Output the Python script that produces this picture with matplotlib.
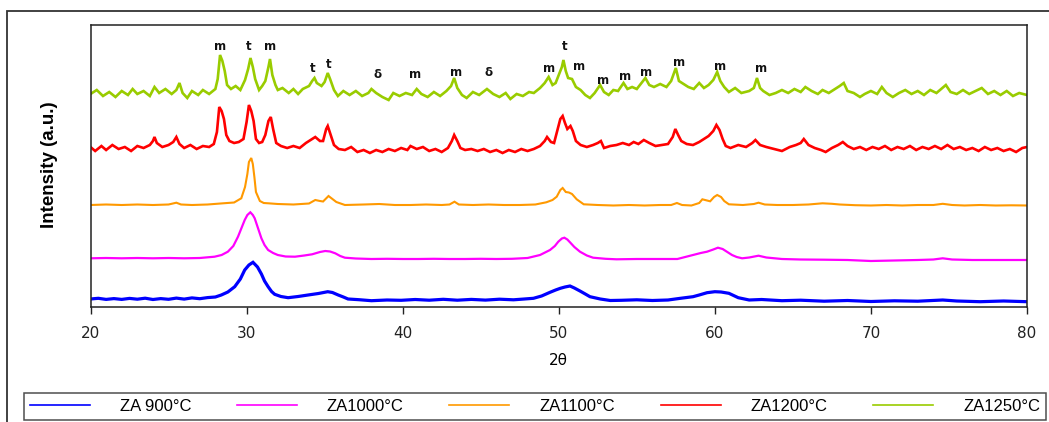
import matplotlib
matplotlib.use('agg')
import matplotlib.pyplot as plt
from matplotlib.patches import Rectangle

# XRD patterns, intensity (arbitrary units, stacked offsets)
tt_900 = [20, 20.5, 21, 21.5, 22, 22.5, 23, 23.5, 24, 24.5, 25, 25.5, 26, 26.5, 27, 27.5, 28, 28.38, 28.8,
          29.24, 29.6, 29.88, 30.15, 30.41, 30.7, 30.95, 31.15, 31.38, 31.6, 31.8, 32.2, 32.66, 33.3, 33.94,
          34.6, 35.2, 35.5, 35.87, 36.2, 36.5, 37.2, 38, 39, 39.9, 40.8, 41.7, 42.6, 43.5, 44.4, 45.3, 46.2,
          47.1, 47.8, 48.38, 48.9, 49.44, 49.8, 50.1, 50.4, 50.72, 51.0, 51.36, 51.7, 52.0, 52.66, 53.3, 54,
          55, 56, 57, 57.8, 58.2, 58.6, 59.0, 59.5, 60.0, 60.4, 60.9, 61.2, 61.5, 62.2, 63, 64.3, 65.5, 67,
          68.5, 70, 71.5, 73, 74.6, 75.5, 77, 78.5, 80]
i_900 = [8, 8.7, 7.6, 8.4, 7.6, 8.6, 7.8, 8.8, 7.5, 8.4, 7.7, 8.9, 7.9, 9.1, 8.3, 9.4, 10, 12, 15,
         20.3, 28, 37, 42, 44.7, 40, 33, 26, 20.3, 15.5, 12.7, 10.5, 9.3, 10.5, 12,
         13.5, 15.3, 14.5, 12, 10, 8, 7.3, 6.3, 7, 6.7, 7.5, 6.8, 7.7, 6.8, 7.6, 6.9, 7.8,
         7.2, 8, 8.7, 11, 14.7, 17, 18.7, 20, 21, 19, 16, 13, 10.3, 8, 6.5, 6.7,
         7.2, 6.5, 7, 8.7, 9.5, 10.3, 12, 14.3, 15.3, 15, 13.7, 11.5, 9.3, 7, 7.5, 6.3, 6.8, 5.8,
         6.5, 5.5, 6.2, 5.8, 7, 6, 5.3, 6, 5.3]

tt_1000 = [20, 21, 22, 23, 24, 25, 26, 27, 27.95, 28.4, 28.8, 29.15, 29.45, 29.7, 29.88, 30.05, 30.24,
           30.4, 30.52, 30.75, 30.95, 31.15, 31.38, 31.7, 32.0, 32.5, 33.1, 33.7, 34.2, 34.7, 35.04, 35.35,
           35.68, 36.0, 36.3, 37, 38, 39, 40, 41, 42, 43, 44, 45, 46, 47, 48, 48.8, 49.44, 49.75, 49.97,
           50.2, 50.36, 50.55, 50.72, 51.0, 51.36, 51.8, 52.2, 53, 53.7, 55, 56, 57, 57.6, 58.1, 58.6, 59.1,
           59.5, 59.9, 60.2, 60.5, 60.8, 61.1, 61.4, 61.75, 62.2, 62.8, 63.3, 64.3, 65.5, 67, 68.5, 70,
           71.5, 73, 74, 74.6, 75.2, 76.5, 78, 80]
i_1000 = [48.7, 49, 48.7, 49, 48.7, 49, 48.7, 49, 50.3, 52, 55.3, 61, 70.3, 80, 87, 92, 94.7,
          92, 88.7, 78, 68.7, 62, 57, 54, 52, 50.5, 50.3, 51.5, 52.7, 55, 56, 55.5,
          53.7, 51, 49.3, 48.5, 48, 48.2, 48, 48, 48.2, 48, 48, 48.2, 48, 48.2, 49, 52, 57, 61, 65.3,
          68.5, 69.3, 67.5, 64.7, 60, 55.3, 51.5, 49.3, 48.2, 47.7, 48, 48, 48, 48, 50, 52, 54,
          55.3, 57.5, 59.3, 58, 55, 52, 50, 48.7, 49.5, 51.3, 49.5, 48, 47.5, 47.3, 47, 46,
          46.5, 47, 47.5, 48.7, 47.5, 47, 47, 47]

tt_1100 = [20, 21, 22, 23, 24, 25, 25.5, 25.8, 26.5, 27.5, 28.5, 29.2, 29.66, 29.9, 30.05, 30.15, 30.3,
           30.4, 30.5, 30.6, 30.85, 31.1, 31.4, 32, 33, 34, 34.4, 34.7, 34.9, 35.25, 35.5, 35.75, 36.3,
           37.5, 38.5, 39.5, 40.5, 41.5, 42.5, 43, 43.32, 43.6, 44.5, 45.5, 46.5, 47.5, 48.5, 49.2, 49.6,
           49.87, 50.1, 50.25, 50.45, 50.65, 50.85, 51.15, 51.6, 52.5, 53.5, 54.5, 55.5, 56.5, 57.2, 57.57,
           57.9, 58.5, 59.0, 59.2, 59.5, 59.7, 59.95, 60.15, 60.4, 60.6, 60.9, 61.8, 62.5, 62.8, 63.2, 64,
           65, 66, 66.9, 67.5, 68, 69, 70, 71, 72, 73, 74, 74.6, 75.2, 76, 77, 78, 79, 80]
i_1100 = [102, 102.5, 102, 102.5, 102, 102.5, 104.3, 102.5, 102, 102.5, 103.7, 104.5, 108.7, 120, 133, 145, 149,
          143, 130, 115, 106, 104, 103.7, 103, 102.5, 103.5, 107, 106, 105.5, 111, 108, 105, 102,
          102.5, 103, 102, 102, 102.5, 102, 102.5, 105.3, 102.5, 102, 102.5, 102, 102, 102.5, 104.7, 107,
          110.3, 117, 119, 115, 114.5, 113, 107.7, 102.7, 102, 101.5, 102, 101.5, 102, 102, 104,
          102, 101.5, 104, 107.7, 106.5, 105.7, 110, 112, 110, 106, 102.7, 102, 103, 104.3, 102.5, 102,
          102, 102.5, 103.7, 103.2, 102.5, 101.8, 101.5, 102, 101.5, 102, 102, 103.2, 102, 101.5, 102, 101.5, 101.7, 101.5]

tt_1200 = [20.0, 20.3, 20.7, 21.0, 21.4, 21.8, 22.2, 22.6, 23.0, 23.4, 23.8, 24.0, 24.1, 24.25, 24.6, 25.0,
           25.3, 25.5, 25.7, 26.0, 26.4, 26.8, 27.2, 27.6, 27.9, 28.1, 28.25, 28.4, 28.55, 28.7, 28.9, 29.2,
           29.5, 29.8, 30.0, 30.15, 30.3, 30.45, 30.6, 30.8, 31.0, 31.2, 31.4, 31.55, 31.7, 31.9, 32.2, 32.6,
           33.0, 33.4, 33.8, 34.1, 34.4, 34.7, 34.9, 35.1, 35.2, 35.35, 35.6, 35.9, 36.3, 36.7, 37.1, 37.5,
           37.9, 38.3, 38.7, 39.1, 39.5, 39.9, 40.3, 40.5, 40.9, 41.3, 41.7, 42.1, 42.5, 42.9, 43.15, 43.3,
           43.5, 43.7, 44.0, 44.4, 44.8, 45.2, 45.6, 46.0, 46.4, 46.8, 47.2, 47.6, 48.0, 48.4, 48.8, 49.1,
           49.25, 49.5, 49.7, 49.9, 50.1, 50.25, 50.4, 50.55, 50.75, 50.9, 51.1, 51.4, 51.8, 52.2, 52.5,
           52.7, 52.9, 53.3, 53.7, 54.1, 54.5, 54.8, 55.1, 55.45, 55.8, 56.2, 56.6, 57.0, 57.3, 57.47, 57.65,
           57.85, 58.2, 58.6, 59.0, 59.3, 59.6, 59.9, 60.1, 60.3, 60.5, 60.7, 61.0, 61.5, 62.0, 62.4, 62.6,
           62.9, 63.3, 63.8, 64.3, 64.8, 65.2, 65.5, 65.7, 66.0, 66.4, 66.8, 67.1, 67.5, 67.9, 68.2, 68.5,
           68.9, 69.3, 69.7, 70.1, 70.5, 70.9, 71.3, 71.7, 72.1, 72.5, 72.9, 73.3, 73.7, 74.1, 74.5, 74.9,
           75.3, 75.7, 76.1, 76.5, 76.9, 77.3, 77.7, 78.1, 78.5, 78.9, 79.3, 79.7, 80.0]
i_1200 = [160, 156, 161, 157, 162, 158, 160, 156, 161, 159, 162, 166, 170, 164, 160, 162,
          165, 170, 163, 159, 162, 158, 161, 160, 163, 175, 200, 196, 188, 172, 166, 164,
          165, 168, 185, 202, 196, 186, 168, 164, 165, 172, 186, 190, 178, 164, 161, 159,
          161, 159, 164, 167, 170, 166, 166, 178, 181, 174, 162, 158, 157, 160, 155, 157,
          154, 157, 155, 158, 156, 159, 157, 161, 158, 160, 156, 158, 155, 159, 166, 172,
          166, 159, 157, 158, 156, 158, 155, 157, 154, 157, 155, 158, 156, 158, 161, 166,
          170, 165, 164, 176, 188, 191, 184, 178, 181, 176, 166, 162, 160, 162, 164,
          166, 159, 161, 162, 164, 162, 165, 163, 167, 164, 161, 162, 163, 170, 178, 172,
          166, 163, 162, 165, 168, 171, 176, 182, 177, 168, 161, 159, 162, 160, 164, 167,
          162, 160, 158, 156, 160, 162, 164, 168, 162, 159, 157, 155, 159, 162, 165, 161,
          158, 160, 157, 160, 158, 161, 157, 160, 158, 161, 157, 160, 158, 161, 158, 162,
          158, 160, 157, 159, 156, 160, 157, 159, 156, 158, 155, 159, 160]

tt_1250 = [20.0, 20.4, 20.8, 21.2, 21.6, 22.0, 22.4, 22.7, 23.0, 23.4, 23.8, 24.1, 24.4, 24.8, 25.2, 25.5,
           25.7, 25.9, 26.2, 26.5, 26.9, 27.2, 27.6, 28.0, 28.15, 28.3, 28.45, 28.6, 28.75, 29.0, 29.3, 29.6,
           29.9, 30.1, 30.25, 30.4, 30.55, 30.8, 31.0, 31.2, 31.4, 31.5, 31.65, 31.85, 32.0, 32.3, 32.7, 33.0,
           33.3, 33.6, 34.0, 34.2, 34.35, 34.5, 34.8, 35.0, 35.2, 35.35, 35.6, 35.85, 36.2, 36.6, 37.0, 37.4,
           37.8, 38.0, 38.3, 38.7, 39.1, 39.4, 39.8, 40.2, 40.6, 40.9, 41.2, 41.6, 42.0, 42.4, 42.8, 43.1,
           43.3, 43.5, 43.8, 44.1, 44.5, 44.9, 45.4, 45.8, 46.2, 46.6, 46.9, 47.3, 47.7, 48.1, 48.4, 48.8,
           49.1, 49.35, 49.6, 49.8, 50.0, 50.2, 50.3, 50.45, 50.6, 50.85, 51.1, 51.4, 51.7, 52.0, 52.3, 52.65,
           52.9, 53.2, 53.5, 53.8, 54.15, 54.4, 54.7, 55.0, 55.3, 55.55, 55.8, 56.1, 56.5, 56.9, 57.2, 57.5,
           57.7, 57.9, 58.3, 58.65, 59.0, 59.3, 59.6, 59.9, 60.15, 60.35, 60.6, 60.9, 61.3, 61.7, 62.2, 62.5,
           62.7, 62.9, 63.1, 63.5, 63.9, 64.3, 64.7, 65.1, 65.5, 65.8, 66.2, 66.6, 66.9, 67.3, 67.7, 68.0,
           68.26, 68.5, 68.9, 69.3, 69.6, 70.0, 70.4, 70.7, 71.0, 71.4, 71.8, 72.2, 72.6, 73.0, 73.4, 73.8,
           74.2, 74.5, 74.8, 75.1, 75.5, 75.9, 76.3, 76.7, 77.1, 77.5, 77.9, 78.3, 78.7, 79.1, 79.5, 80.0]
i_1250 = [213, 217, 211, 215, 210, 216, 212, 218, 213, 216, 211, 220, 214, 218, 213, 217,
          224, 214, 209, 216, 212, 217, 213, 218, 228, 252, 246, 236, 222, 218, 221, 217,
          227, 238, 249, 240, 228, 217, 221, 226, 240, 248, 232, 222, 217, 219, 214, 218,
          213, 218, 221, 226, 229, 224, 221, 225, 234, 228, 217, 211, 216, 212, 216, 211,
          214, 218, 214, 210, 207, 214, 211, 214, 212, 218, 213, 210, 215, 211, 216, 221,
          229, 219, 212, 209, 215, 212, 218, 213, 210, 214, 208, 213, 211, 215, 214, 219,
          224, 230, 222, 224, 232, 240, 247, 236, 229, 228, 220, 217, 212, 209, 214, 222,
          215, 212, 217, 216, 224, 218, 220, 218, 224, 229, 222, 220, 223, 220, 226, 239,
          226, 224, 220, 218, 224, 219, 222, 227, 235, 226, 220, 215, 219, 214, 216, 219,
          229, 219, 216, 212, 214, 217, 214, 218, 215, 220, 216, 213, 217, 214, 218, 221,
          224, 216, 214, 210, 213, 216, 213, 220, 214, 210, 214, 217, 213, 216, 212, 217,
          214, 218, 222, 215, 213, 217, 213, 216, 219, 213, 216, 212, 216, 211, 214, 212]

# phase labels above the 1250 pattern
peak_tags = ['m', 't', 'm', 't', 't', 'δ', 'm', 'm', 'δ', 'm', 't', 'm', 'm', 'm', 'm', 'm', 'm', 'm']
tag_pos = [28.3, 30.13, 31.5, 34.24, 35.29, 38.37, 40.8, 43.43, 45.48, 49.37, 50.38, 51.31,
           52.85, 54.26, 55.6, 57.7, 60.33, 62.95]
tag_height = [261, 261, 261, 238, 242, 232, 232, 235, 234, 238, 260, 240, 227, 231, 234, 244, 240.5, 238]

series = [
    ('ZA 900°C', tt_900, i_900, '#0000FF', 2.3),
    ('ZA1000°C', tt_1000, i_1000, '#FF00FF', 1.6),
    ('ZA1100°C', tt_1100, i_1100, '#FF9900', 1.5),
    ('ZA1200°C', tt_1200, i_1200, '#FF0000', 1.9),
    ('ZA1250°C', tt_1250, i_1250, '#99CC00', 1.9),
]

W, H = 1049, 422
fig = plt.figure(figsize=(W / 100, H / 100), dpi=100)

# outer chart border (right and bottom edges run off the picture)
fig.patches.append(Rectangle((7 / W, -0.1), 1.2, (H - 11) / H + 0.1, transform=fig.transFigure,
                             fill=False, edgecolor='#333333', lw=1.3))

ax = fig.add_axes([90.5 / W, (H - 307) / H, (1027 - 90.5) / W, (307 - 25) / H])

lines = []
for label, x, y, color, lw in series:
    ln, = ax.plot(x, y, color=color, lw=lw, label=label, solid_joinstyle='miter')
    lines.append(ln)

for tag, x, y in zip(peak_tags, tag_pos, tag_height):
    ax.text(x, y, tag, ha='center', va='center', fontsize=8.5, fontweight='bold', color='#111111')

ax.set_xlim(20, 80)
ax.set_ylim(0, 282)
ax.set_xticks([20, 30, 40, 50, 60, 70, 80])
ax.set_yticks([])
ax.tick_params(axis='x', direction='out', length=5, width=1, pad=9, labelsize=11, colors='#222222')
for sp in ax.spines.values():
    sp.set_linewidth(1.1)
    sp.set_color('#222222')

ax.set_xlabel('2θ', fontsize=11, labelpad=8)
fig.text(50 / W, 1 - 165 / H, 'Intensity (a.u.)', rotation=90, ha='center', va='center',
         fontsize=13.5, fontweight='bold', family=['Liberation Sans Narrow', 'Liberation Sans', 'DejaVu Sans'])

leg = fig.legend(handles=lines, loc='lower left', ncol=5, mode='expand',
                 bbox_to_anchor=(24 / W, (H - 420) / H, (1046 - 24) / W, 29 / H),
                 prop={'family': ['Liberation Sans', 'DejaVu Sans'], 'size': 12},
                 frameon=True, fancybox=False, borderaxespad=0,
                 handlelength=3.6, handletextpad=1.8, columnspacing=1.0, borderpad=0.35)
leg.get_frame().set_edgecolor('#222222')
leg.get_frame().set_linewidth(1.1)
for lh in leg.get_lines():
    lh.set_linewidth(1.2)

fig.savefig('out.png', dpi=100)
